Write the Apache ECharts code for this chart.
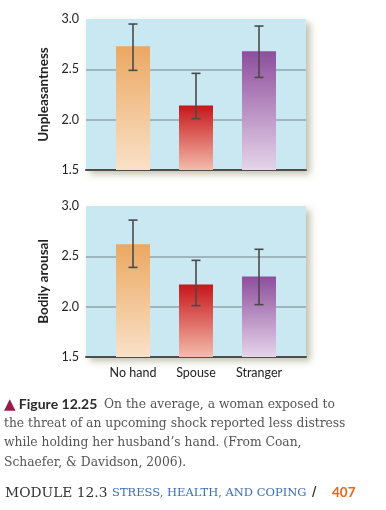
<!DOCTYPE html>
<html><head><meta charset="utf-8">
<script src="https://cdn.jsdelivr.net/npm/echarts@6/dist/echarts.min.js"></script>
<style>html,body{margin:0;padding:0;background:#fff}#c{width:386px;height:510px}</style>
</head><body><div id="c"></div>
<script>
const categories = ['No hand', 'Spouse', 'Stranger'];
const yTicks = [1.5, 2.0, 2.5, 3.0];
const unpleasantness = [2.73, 2.14, 2.68];
const unpleasantnessLow = [2.49, 2.01, 2.42];
const unpleasantnessHigh = [2.95, 2.46, 2.93];
const arousal = [2.62, 2.22, 2.30];
const arousalLow = [2.39, 2.01, 2.02];
const arousalHigh = [2.86, 2.46, 2.57];

const gradients = [
  ['#EBA862', '#F9E1C8'],
  ['#C8151B', '#F3BCAA'],
  ['#8E4E9C', '#E5D4EA']
];
function grad(i){
  return new echarts.graphic.LinearGradient(0,0,0,1,[{offset:0,color:gradients[i][0]},{offset:1,color:gradients[i][1]}]);
}
const yMin = yTicks[0], yMax = yTicks[yTicks.length-1], yInt = yTicks[1]-yTicks[0];
const font = 'Lato, "Open Sans", sans-serif';

function bgGrid(top){ return {left:86, width:220, top:top, height:151, show:true, backgroundColor:'#C9E8F2', borderWidth:0,
  shadowColor:'rgba(110,110,70,0.45)', shadowBlur:7, shadowOffsetX:4, shadowOffsetY:4}; }
function barGrid(top){ return {left:101.5, width:189, top:top, height:151}; }

const grids = [bgGrid(19), barGrid(19), bgGrid(206), barGrid(206)];
const xAxes = [], yAxes = [];
[0,1,2,3].forEach(g=>{
  const isBg = g%2===0;
  xAxes.push({type:'category', gridIndex:g, data:categories,
    axisLine:{show:isBg, lineStyle:{color:'#4d4d4d', width:2}},
    axisTick:{show:false},
    axisLabel:{show:g===3, color:'#222', fontFamily:font, fontSize:12.5, margin:9},
    splitLine:{show:false}});
  yAxes.push({type:'value', gridIndex:g, min:yMin, max:yMax, interval:yInt,
    name: isBg ? (g===0?'Unpleasantness':'Bodily arousal') : '',
    nameLocation:'middle', nameGap:34, nameRotate:90,
    nameTextStyle:{fontFamily:font, fontWeight:'bold', fontSize:13.5, color:'#222'},
    axisLine:{show:false}, axisTick:{show:false},
    axisLabel:{show:isBg, color:'#222', fontFamily:font, fontSize:12.5, margin:7, formatter:v=>v.toFixed(1)},
    splitLine:{show:isBg, showMinLine:false, showMaxLine:false, lineStyle:{color:'#8FA4AB', width:1.5}}});
});

function errSeries(g, low, high){
  return {type:'custom', xAxisIndex:g, yAxisIndex:g, z:5,
    data: categories.map((c,i)=>[i, low[i], high[i]]),
    renderItem:(params, api)=>{
      const x = api.value(0);
      const p1 = api.coord([x, api.value(1)]);
      const p2 = api.coord([x, api.value(2)]);
      const w = 4.5;
      const st = {stroke:'#4a4a4a', lineWidth:1.6};
      return {type:'group', children:[
        {type:'line', shape:{x1:p1[0],y1:p1[1],x2:p2[0],y2:p2[1]}, style:st},
        {type:'line', shape:{x1:p1[0]-w,y1:p1[1],x2:p1[0]+w,y2:p1[1]}, style:st},
        {type:'line', shape:{x1:p2[0]-w,y1:p2[1],x2:p2[0]+w,y2:p2[1]}, style:st}
      ]};
    }};
}
function barSeries(g, vals){
  return {type:'bar', xAxisIndex:g, yAxisIndex:g, barWidth:34,
    data: vals.map((v,i)=>({value:v, itemStyle:{color:grad(i)}}))};
}

const caption = [
  '{tri|▲} {fig|Figure 12.25}  {t|On the average, a woman exposed to}',
  '{t|the threat of an upcoming shock reported less distress}',
  '{t|while holding her husband\u2019s hand. (From Coan,}',
  '{t|Schaefer, & Davidson, 2006).}'
].join('\n');
const serif = '"DejaVu Serif", "Liberation Serif", serif';

const option = {
  animation:false,
  grid:grids, xAxis:xAxes, yAxis:yAxes,
  series:[barSeries(1, unpleasantness), errSeries(1, unpleasantnessLow, unpleasantnessHigh),
          barSeries(3, arousal), errSeries(3, arousalLow, arousalHigh)],
  graphic:[
    {type:'text', left:4, top:395, style:{text:caption, lineHeight:19.3,
      rich:{
        tri:{fill:'#9A1A4D', fontSize:15, fontFamily:'"DejaVu Sans", sans-serif', lineHeight:19.3},
        fig:{fill:'#2a2a2a', fontSize:14, fontWeight:'bold', fontFamily:font, lineHeight:19.3},
        t:{fill:'#555', fontSize:12.3, fontFamily:serif, lineHeight:19.3}
      }}},
    {type:'text', left:5, top:486, style:{text:'MODULE 12.3', fill:'#333', fontSize:13.8, fontFamily:serif}},
    {type:'text', left:112, top:487, style:{text:'STRESS, HEALTH, AND COPING', fill:'#3A6DB5', fontSize:11.5, fontFamily:serif}},
    {type:'text', left:312, top:487, style:{text:'/', fill:'#333', fontSize:12, fontWeight:'bold', fontFamily:serif}},
    {type:'text', left:332, top:486, style:{text:'407', fill:'#E8661C', fontSize:13.5, fontWeight:'bold', fontFamily:font}}
  ]
};
const chart = echarts.init(document.getElementById('c'), null, {renderer:'canvas'});
chart.setOption(option);
</script></body></html>
